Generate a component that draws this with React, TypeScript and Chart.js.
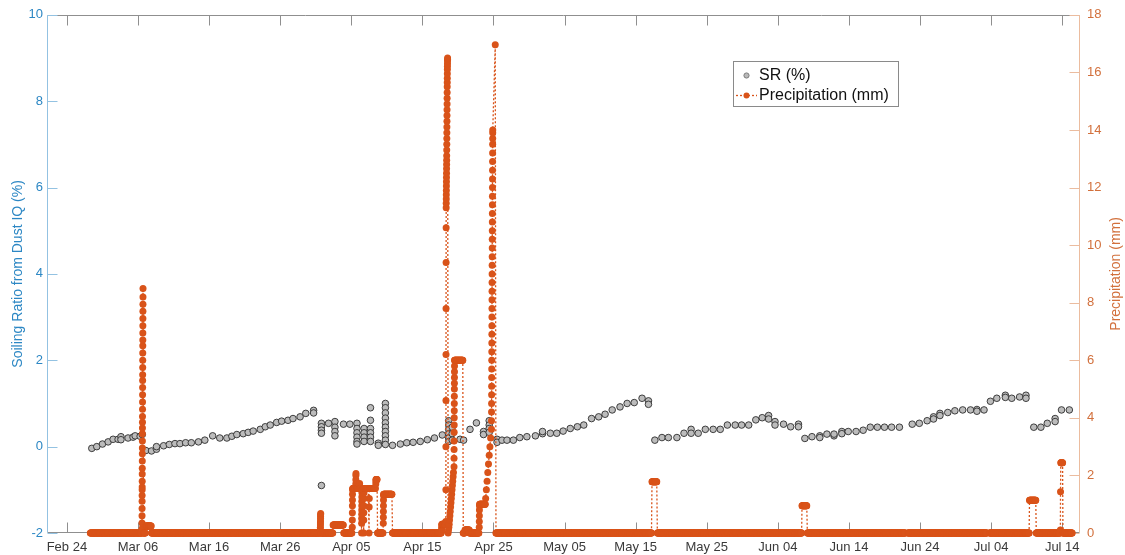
import React, { useEffect, useRef } from 'react';
import { Chart, registerables } from 'chart.js';

Chart.register(...registerables);

// ---- axis ticks ----
const xTickDays = [0, 10, 20, 30, 40, 50, 60, 70, 80, 90, 100, 110, 120, 130, 140];
const xTickLabels = ['Feb 24', 'Mar 06', 'Mar 16', 'Mar 26', 'Apr 05', 'Apr 15', 'Apr 25', 'May 05', 'May 15', 'May 25', 'Jun 04', 'Jun 14', 'Jun 24', 'Jul 04', 'Jul 14'];
const srTickValues = [-2, 0, 2, 4, 6, 8, 10];
const precipTickValues = [0, 2, 4, 6, 8, 10, 12, 14, 16, 18];

// ---- Soiling ratio (%) : [day since Feb 24, value] ----
const srMarch: [number, number][] = [
  [3.5, -0.04], [4.2, 0.0], [5.0, 0.06], [5.8, 0.11], [6.5, 0.17], [7.2, 0.17], [7.6, 0.23], [7.6, 0.16], [8.6, 0.2], [9.3, 0.22], [9.6, 0.25], [10.3, 0.24], [10.6, 0.28],
  [11.1, -0.09], [11.9, -0.1], [12.6, -0.06], [12.6, 0.0], [13.6, 0.02], [14.4, 0.05], [15.2, 0.07], [15.9, 0.07], [16.7, 0.09], [17.5, 0.09], [18.5, 0.11], [19.4, 0.15],
  [20.5, 0.25], [21.5, 0.2], [22.5, 0.2], [23.2, 0.24], [23.9, 0.28], [24.8, 0.3], [25.5, 0.33], [26.2, 0.36], [27.2, 0.4], [27.9, 0.46], [28.6, 0.5], [29.5, 0.56],
  [30.2, 0.59], [31.1, 0.61], [31.8, 0.65], [32.8, 0.69], [33.6, 0.77], [34.7, 0.84], [34.7, 0.78],
];
const srApril: [number, number][] = [
  [35.8, 0.54], [35.8, 0.46], [35.8, 0.38], [35.8, 0.31], [35.8, -0.9], [36.8, 0.54], [37.7, 0.58], [37.7, 0.45], [37.7, 0.35], [37.7, 0.25], [38.9, 0.52], [39.8, 0.52],
  [40.8, 0.54], [40.8, 0.42], [40.8, 0.32], [40.8, 0.22], [40.8, 0.12], [40.8, 0.06],
  [41.8, 0.42], [41.8, 0.32], [41.8, 0.22], [41.8, 0.12],
  [42.7, 0.9], [42.7, 0.61], [42.7, 0.42], [42.7, 0.32], [42.7, 0.22], [42.7, 0.12],
  [43.8, 0.08], [43.8, 0.03],
  [44.8, 1.0], [44.8, 0.9], [44.8, 0.78], [44.8, 0.66], [44.8, 0.55], [44.8, 0.45], [44.8, 0.35], [44.8, 0.25], [44.8, 0.15], [44.8, 0.05],
  [45.8, 0.03], [46.9, 0.06], [47.8, 0.09], [48.7, 0.1], [49.7, 0.12], [50.7, 0.16], [51.7, 0.2], [52.8, 0.27],
  [53.7, 0.6], [53.7, 0.5], [53.7, 0.4], [53.7, 0.3], [53.7, 0.2], [53.7, 0.12], [54.2, 0.45], [54.2, 0.3], [54.2, 0.15],
  [55.3, 0.17], [55.8, 0.15], [56.7, 0.4], [57.6, 0.55], [58.6, 0.35], [58.6, 0.28], [59.4, 0.6], [59.4, 0.5], [59.4, 0.42], [59.4, 0.33], [60.5, 0.17], [60.5, 0.1],
  [61.2, 0.15], [61.9, 0.15], [62.8, 0.15], [63.7, 0.21], [64.7, 0.23], [65.9, 0.25], [66.9, 0.3], [66.9, 0.35], [68.0, 0.31], [68.9, 0.31], [69.8, 0.36],
  [70.8, 0.42], [71.8, 0.46], [72.7, 0.5], [73.8, 0.65], [74.8, 0.69], [75.7, 0.75], [76.7, 0.85], [77.8, 0.92], [78.8, 1.0], [79.8, 1.02], [80.9, 1.12], [81.8, 1.06], [81.8, 0.98],
];
const srMay: [number, number][] = [
  [82.7, 0.15], [83.7, 0.21], [84.6, 0.21], [85.8, 0.21], [86.8, 0.31], [87.8, 0.4], [87.8, 0.31], [88.8, 0.31], [89.8, 0.4], [90.9, 0.4], [91.9, 0.4],
  [92.9, 0.5], [94.0, 0.5], [94.9, 0.5], [95.9, 0.5], [96.9, 0.62], [97.8, 0.67], [98.7, 0.72], [98.7, 0.64], [99.6, 0.58], [99.6, 0.5], [100.8, 0.52], [101.8, 0.46], [102.9, 0.52], [102.9, 0.46],
];
const srJune: [number, number][] = [
  [103.8, 0.19], [104.8, 0.23], [105.9, 0.25], [105.9, 0.21], [106.9, 0.29], [107.9, 0.25], [107.9, 0.29], [109.0, 0.35], [109.0, 0.3], [109.9, 0.35], [111.0, 0.35], [112.0, 0.38],
  [113.0, 0.45], [114.0, 0.45], [115.0, 0.45], [116.0, 0.45], [117.1, 0.45],
  [118.9, 0.52], [119.9, 0.54], [121.0, 0.6], [121.9, 0.69], [121.9, 0.64], [122.8, 0.77], [122.8, 0.72], [123.9, 0.79], [124.9, 0.83], [126.0, 0.85], [127.1, 0.85], [128.0, 0.86], [128.0, 0.82], [129.0, 0.85],
];
const srJuly: [number, number][] = [
  [129.9, 1.05], [130.8, 1.12], [132.0, 1.19], [132.0, 1.14], [132.9, 1.12], [134.0, 1.15], [134.9, 1.19], [134.9, 1.12],
  [136.0, 0.45], [137.0, 0.45], [137.9, 0.54], [139.0, 0.65], [139.0, 0.58], [139.9, 0.85], [141.0, 0.85],
];

// ---- Precipitation (mm) ----
// steady readings held over a period: [fromDay, toDay, mm] (logged hourly)
const precipLevels: [number, number, number][] = [
  [3.3, 10.52, 0], [10.76, 11.05, 0], [11.1, 11.85, 0.24], [11.9, 35.6, 0],
  [35.72, 37.4, 0], [37.45, 38.9, 0.28], [38.95, 40.1, 0],
  [40.2, 40.6, 1.55], [40.7, 41.1, 1.55], [41.2, 41.4, 1.55], [41.5, 41.7, 1.5], [41.8, 42.4, 1.55],
  [42.55, 43.4, 1.55], [43.5, 43.65, 1.86], [43.7, 44.45, 0], [44.55, 45.75, 1.35],
  [45.8, 52.65, 0], [52.75, 53.25, 0.3],
  [54.56, 55.7, 6.0], [55.75, 55.95, 0], [56.0, 56.6, 0.1], [56.65, 57.95, 0],
  [58.05, 58.85, 1.0],
  [60.35, 82.25, 0], [82.3, 83.0, 1.78], [83.05, 103.35, 0], [103.4, 104.1, 0.95],
  [104.15, 117.9, 0], [118.3, 129.4, 0], [129.8, 135.35, 0], [135.4, 136.3, 1.14],
  [136.35, 139.7, 0], [139.8, 140.05, 2.44], [140.1, 141.4, 0],
];
// rapid bursts of readings: [startDay, dayBetweenReadings, mm readings]
const precipBursts: [number, number, number[]][] = [
  [10.56, 0.004, [0.15, 0.35, 0.6, 0.85, 1.1, 1.3, 1.5, 1.6, 1.8, 2.05, 2.25, 2.5, 2.75, 2.95, 3.2, 3.45, 3.65, 3.85, 4.05, 4.3, 4.55, 4.8, 5.05, 5.3, 5.5, 5.75, 6.0, 6.25, 6.5, 6.7, 6.95, 7.2, 7.45, 7.7, 7.95, 8.2, 8.49]],
  [35.64, 0.006, [0.05, 0.12, 0.2, 0.28, 0.35, 0.42, 0.5, 0.57, 0.63, 0.68]],
  [40.14, 0.006, [0.2, 0.45, 0.7, 0.95, 1.15, 1.35, 1.5]],
  [40.63, 0.01, [1.7, 1.85, 2.0, 2.07]],
  [41.15, 0.02, [1.65, 1.72]],
  [41.45, 0.005, [0, 0.34, 0.5, 0.65, 0.8, 0.95, 1.1, 1.25, 1.4]],
  [41.75, 0.008, [0, 0.45, 0.7, 0.95, 1.2, 1.4]],
  [42.5, 0.015, [0, 0.9, 1.2]],
  [43.45, 0.015, [1.7, 1.8, 1.86]],
  [44.5, 0.008, [0.34, 0.55, 0.75, 0.95, 1.15, 1.3]],
  [52.7, 0.01, [0.05, 0.12, 0.2, 0.28]],
  [53.3, 0.006, [0.4, 1.5, 3.0, 4.6, 6.2, 7.8, 9.4, 10.6, 11.3, 11.45, 11.6, 11.75, 11.9, 12.05, 12.2, 12.35, 12.5, 12.65, 12.8, 12.95, 13.1, 13.3, 13.5, 13.7, 13.9, 14.1, 14.3, 14.5, 14.7, 14.9, 15.1, 15.3, 15.5, 15.65, 15.8, 15.95, 16.1, 16.2, 16.3, 16.4, 16.45, 16.5]],
  [53.62, 0.05, [0, 0.1, 0.2, 0.3, 0.45, 0.6, 0.75, 0.9, 1.05, 1.2, 1.35, 1.5, 1.65, 1.8, 1.95, 2.1]],
  [54.45, 0.005, [2.3, 2.6, 2.9, 3.2, 3.5, 3.75, 4.0, 4.25, 4.5, 4.75, 5.0, 5.2, 5.4, 5.6, 5.8, 6.0]],
  [58.0, 0.008, [0.2, 0.4, 0.6, 0.8, 0.95]],
  [58.9, 0.1, [1.2, 1.5, 1.8, 2.1, 2.4, 2.7, 3.0, 3.3]],
  [59.72, 0.005, [3.6, 3.9, 4.2, 4.5, 4.8, 5.1, 5.4, 5.7, 6.0, 6.3, 6.6, 6.9, 7.2, 7.5, 7.8, 8.1, 8.4, 8.7, 9.0, 9.3, 9.6, 9.9, 10.2, 10.5, 10.8, 11.1, 11.4, 11.7, 12.0, 12.3, 12.6, 12.9, 13.2, 13.5, 13.7, 13.9, 14.0]],
  [60.25, 0.01, [16.96]],
  [139.74, 0.02, [0.1, 1.43]],
];
const precipLogHours = 1;

const SR_BLUE = '#2c87c4';
const SR_AXIS = '#93c2e2';
const PR_ORANGE = '#D95319';
const PR_TEXT = '#d2703c';
const PR_AXIS = '#ebbc9f';
const FONT = '"Liberation Sans", Arial, Helvetica, sans-serif';

function buildSR() {
  return [...srMarch, ...srApril, ...srMay, ...srJune, ...srJuly].map(([x, y]) => ({ x, y }));
}

function buildPrecip() {
  const pts: { x: number; y: number }[] = [];
  const step = precipLogHours / 24;
  for (const [from, to, mm] of precipLevels) {
    for (let t = from; t <= to + 1e-9; t += step) pts.push({ x: t, y: mm });
  }
  for (const [start, dt, values] of precipBursts) {
    values.forEach((v, i) => pts.push({ x: start + i * dt, y: v }));
  }
  pts.sort((a, b) => a.x - b.x);
  return pts;
}

const axesPlugin = {
  id: 'matlabAxes',
  beforeDatasetsDraw(chart: any) {
    const { ctx, chartArea: a, scales } = chart;
    const xs = scales.x, yl = scales.y, yr = scales.y1;
    ctx.save();
    ctx.lineWidth = 1;
    const L = Math.round(a.left) + 0.5, R = Math.round(a.right) - 0.5;
    const T = Math.round(a.top) + 0.5, B = Math.round(a.bottom) - 0.5;
    ctx.strokeStyle = '#8f8f8f';
    ctx.beginPath();
    ctx.moveTo(L, T); ctx.lineTo(R, T);
    ctx.moveTo(L, B); ctx.lineTo(R, B);
    for (const v of xTickDays) {
      const px = Math.round(xs.getPixelForValue(v)) + 0.5;
      ctx.moveTo(px, B); ctx.lineTo(px, B - 10);
      ctx.moveTo(px, T); ctx.lineTo(px, T + 10);
    }
    ctx.stroke();
    ctx.strokeStyle = SR_AXIS;
    ctx.beginPath();
    ctx.moveTo(L, T); ctx.lineTo(L, B);
    for (const v of srTickValues) {
      const py = Math.round(yl.getPixelForValue(v)) + 0.5;
      ctx.moveTo(L, py); ctx.lineTo(L + 10, py);
    }
    ctx.stroke();
    ctx.strokeStyle = PR_AXIS;
    ctx.beginPath();
    ctx.moveTo(R, T); ctx.lineTo(R, B);
    for (const v of precipTickValues) {
      const py = Math.round(yr.getPixelForValue(v)) + 0.5;
      ctx.moveTo(R, py); ctx.lineTo(R - 10, py);
    }
    ctx.stroke();
    ctx.restore();
  },
  afterDraw(chart: any) {
    const { ctx, chartArea: a } = chart;
    ctx.save();
    const cy = (a.top + a.bottom) / 2;
    ctx.font = `14px ${FONT}`;
    ctx.textAlign = 'center';
    ctx.textBaseline = 'middle';
    ctx.save();
    ctx.translate(18, cy);
    ctx.rotate(-Math.PI / 2);
    ctx.fillStyle = SR_BLUE;
    ctx.fillText('Soiling Ratio from Dust IQ (%)', 0, 0);
    ctx.restore();
    ctx.save();
    ctx.translate(1116, cy);
    ctx.rotate(-Math.PI / 2);
    ctx.fillStyle = PR_TEXT;
    ctx.fillText('Precipitation (mm)', 0, 0);
    ctx.restore();

    // legend
    const lx = 733, ly = 61, lw = 165, lh = 45;
    ctx.fillStyle = '#ffffff';
    ctx.fillRect(lx, ly, lw, lh);
    ctx.strokeStyle = '#8a8a8a';
    ctx.lineWidth = 1;
    ctx.strokeRect(lx + 0.5, ly + 0.5, lw, lh);
    const r1 = ly + 14.5, r2 = ly + 34.5;
    ctx.beginPath();
    ctx.arc(lx + 13.5, r1, 2.6, 0, Math.PI * 2);
    ctx.fillStyle = '#b9b9b9';
    ctx.fill();
    ctx.strokeStyle = '#7d7d7d';
    ctx.stroke();
    ctx.beginPath();
    ctx.setLineDash([2, 2]);
    ctx.strokeStyle = PR_ORANGE;
    ctx.lineWidth = 1.3;
    ctx.moveTo(lx + 3, r2); ctx.lineTo(lx + 24, r2);
    ctx.stroke();
    ctx.setLineDash([]);
    ctx.beginPath();
    ctx.arc(lx + 13.5, r2, 3, 0, Math.PI * 2);
    ctx.fillStyle = PR_ORANGE;
    ctx.fill();
    ctx.fillStyle = '#111111';
    ctx.font = `16px ${FONT}`;
    ctx.textAlign = 'left';
    ctx.fillText('SR (%)', lx + 26, r1);
    ctx.fillText('Precipitation (mm)', lx + 26, r2);
    ctx.restore();
  },
};

export default function App() {
  const ref = useRef<HTMLCanvasElement>(null);
  useEffect(() => {
    if (!ref.current) return;
    const chart = new Chart(ref.current, {
      type: 'scatter',
      data: {
        datasets: [
          {
            label: 'Precipitation (mm)',
            data: buildPrecip(),
            yAxisID: 'y1',
            showLine: true,
            borderColor: PR_ORANGE,
            borderWidth: 1.3,
            borderDash: [2, 2],
            pointRadius: 3.5,
            pointBackgroundColor: PR_ORANGE,
            pointBorderWidth: 0,
            pointHoverRadius: 0,
            tension: 0,
            clip: false,
            order: 0,
          } as any,
          {
            label: 'SR (%)',
            data: buildSR(),
            yAxisID: 'y',
            showLine: false,
            pointRadius: 3.3,
            pointBackgroundColor: '#bcbcbc',
            pointBorderColor: '#2e2e2e',
            pointBorderWidth: 0.9,
            pointHoverRadius: 0,
            clip: false,
            order: 1,
          } as any,
        ],
      },
      options: {
        responsive: false,
        animation: false,
        devicePixelRatio: 1,
        events: [],
        layout: { padding: { top: 14, left: 0, right: 0, bottom: 0 }, autoPadding: false },
        font: { family: FONT },
        plugins: { legend: { display: false }, tooltip: { enabled: false } },
        scales: {
          x: {
            type: 'linear',
            min: -2.8,
            max: 142.5,
            grid: { display: false, drawTicks: false },
            border: { display: false },
            afterBuildTicks: (s: any) => { s.ticks = xTickDays.map((v) => ({ value: v })); },
            afterFit: (s: any) => { s.height = 22; },
            ticks: {
              autoSkip: false,
              maxRotation: 0,
              padding: 7,
              color: '#3a3a3a',
              font: { size: 13, family: FONT },
              callback: (v: any) => { const i = xTickDays.indexOf(Number(v)); return i >= 0 ? xTickLabels[i] : ''; },
            },
          },
          y: {
            type: 'linear',
            position: 'left',
            min: -2,
            max: 10,
            grid: { display: false, drawTicks: false },
            border: { display: false },
            afterBuildTicks: (s: any) => { s.ticks = srTickValues.map((v) => ({ value: v })); },
            afterFit: (s: any) => { s.width = 47; },
            ticks: { padding: 4, color: SR_BLUE, font: { size: 13, family: FONT } },
          },
          y1: {
            type: 'linear',
            position: 'right',
            min: 0,
            max: 18,
            grid: { display: false, drawTicks: false },
            border: { display: false },
            afterBuildTicks: (s: any) => { s.ticks = precipTickValues.map((v) => ({ value: v })); },
            afterFit: (s: any) => { s.width = 45; },
            ticks: { padding: 7, color: PR_TEXT, font: { size: 13, family: FONT } },
          },
        },
      } as any,
      plugins: [axesPlugin],
    });
    return () => chart.destroy();
  }, []);
  return (
    <div style={{ position: 'fixed', left: 0, top: 0, width: 1125, height: 555, background: '#ffffff' }}>
      <canvas ref={ref} width={1125} height={555} style={{ display: 'block' }} />
    </div>
  );
}
